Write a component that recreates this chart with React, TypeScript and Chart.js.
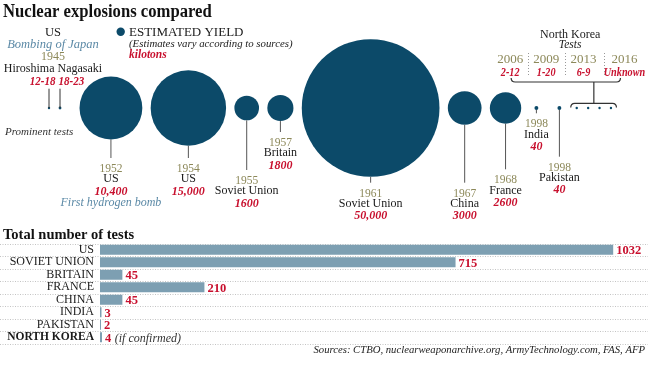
import React, { useEffect, useRef } from "react";
import { Chart, registerables } from "chart.js";
Chart.register(...registerables);

const SERIF = '"Liberation Serif", "Times New Roman", serif';
const C_BUBBLE = "#0c4a69";
const C_BAR = "#7d9fb2";
const C_RED = "#c8102e";
const C_OLIVE = "#8c8859";
const C_BLUE = "#5b89a6";
const C_TEXT = "#1a1a1a";
const C_STEM = "#333333";

// ---- Data: prominent tests ----
const testYears = ["1945", "1945", "1952", "1954", "1955", "1957", "1961", "1967", "1968", "1998", "1998", "2006", "2009", "2013", "2016"];
const testCountries = ["US", "US", "US", "US", "Soviet Union", "Britain", "Soviet Union", "China", "France", "India", "Pakistan", "North Korea", "North Korea", "North Korea", "North Korea"];
const yieldKt = [15, 21, 10400, 15000, 1600, 1800, 50000, 3000, 2600, 40, 40, 7, 10, 7.5, 0];
const yieldLabels = ["12-18", "18-23", "10,400", "15,000", "1600", "1800", "50,000", "3000", "2600", "40", "40", "2-12", "1-20", "6-9", "Unknown"];

// ---- Data: total number of tests ----
const countries = ["US", "SOVIET UNION", "BRITAIN", "FRANCE", "CHINA", "INDIA", "PAKISTAN", "NORTH KOREA"];
const totalTests = [1032, 715, 45, 210, 45, 3, 2, 4];

// ---- Layout (packing of bubbles) ----
const groups = [[0, 1], [2, 3, 4, 5, 6, 7, 8], [9, 10], [11, 12, 13, 14]];
const innerGap = [8.4, 8.3, 19.1, 9];
const groupGap = [18.1, 13.2, 14.2];
const firstX = 49;
const R_SCALE = 0.308;
const R_MIN = 1.2;
const labelDrop: Record<number, number> = { 2: 64, 3: 64, 4: 76, 5: 38, 6: 88.7, 7: 88.7, 8: 75.3, 9: 19.3, 10: 62.7 };
const nkCols = [-83.7, -47.7, -10.4, 30.6];
const nkSeps = [-65.5, -28.5, 9.8];

const radii = yieldKt.map((v) => Math.max(R_MIN, R_SCALE * Math.sqrt(v)));
const xs: number[] = [];
(() => {
  let prev = -1;
  groups.forEach((g, gi) =>
    g.forEach((idx, k) => {
      if (prev < 0) xs[idx] = firstX;
      else xs[idx] = xs[prev] + radii[prev] + radii[idx] + (k === 0 ? groupGap[gi - 1] : innerGap[gi]);
      prev = idx;
    })
  );
})();

function txt(ctx: CanvasRenderingContext2D, s: string, x: number, y: number, font: string, color: string, align: CanvasTextAlign = "center", sx = 1) {
  ctx.save();
  ctx.font = font;
  ctx.fillStyle = color;
  ctx.textAlign = align;
  ctx.textBaseline = "alphabetic";
  ctx.translate(x, y);
  ctx.scale(sx, 1);
  ctx.fillText(s, 0, 0);
  ctx.restore();
}

function vline(ctx: CanvasRenderingContext2D, x: number, y1: number, y2: number, color = C_STEM, w = 1) {
  ctx.save();
  ctx.strokeStyle = color;
  ctx.lineWidth = w;
  ctx.beginPath();
  ctx.moveTo(x, y1);
  ctx.lineTo(x, y2);
  ctx.stroke();
  ctx.restore();
}

const f = (size: number, style = "") => `${style} ${size}px ${SERIF}`.trim();

const topPlugin = {
  id: "topLabels",
  afterDatasetsDraw(chart: any) {
    const ctx: CanvasRenderingContext2D = chart.ctx;
    const xsc = chart.scales.x;
    const ysc = chart.scales.y;
    const px = (i: number) => xsc.getPixelForValue(xs[i]);
    const cy = ysc.getPixelForValue(0);

    txt(ctx, "Nuclear explosions compared", 3, 17, f(18, "bold"), "#111", "left", 0.925);

    // Japan
    const mid = (px(0) + px(1)) / 2;
    const jx = mid - 1.5;
    txt(ctx, "US", jx, 35.5, f(12.5), C_TEXT);
    txt(ctx, "Bombing of Japan", jx, 48, f(12.5, "italic"), C_BLUE);
    txt(ctx, testYears[0], jx, 60.3, f(12), C_OLIVE);
    txt(ctx, "Hiroshima Nagasaki", jx, 71.7, f(12), C_TEXT);
    txt(ctx, yieldLabels[0], mid + 1, 84.7, f(12, "italic bold"), C_RED, "right", 0.92);
    txt(ctx, yieldLabels[1], mid + 4, 84.7, f(12, "italic bold"), C_RED, "left", 0.92);
    vline(ctx, px(0), 88.7, cy);
    vline(ctx, px(1), 88.7, cy);

    // Legend
    ctx.save();
    ctx.fillStyle = C_BUBBLE;
    ctx.beginPath();
    ctx.arc(120.7, 31.7, 4.2, 0, Math.PI * 2);
    ctx.fill();
    ctx.restore();
    txt(ctx, "ESTIMATED YIELD", 129, 36, f(13), C_TEXT, "left");
    txt(ctx, "(Estimates vary according to sources)", 129, 47.3, f(10.8, "italic"), C_TEXT, "left");
    txt(ctx, "kilotons", 129, 57.7, f(11.5, "italic bold"), C_RED, "left");

    txt(ctx, "Prominent tests", 5, 135, f(11, "italic"), "#333", "left");

    // Main labels
    Object.keys(labelDrop).forEach((k) => {
      const i = Number(k);
      const x = px(i);
      const yb = cy + labelDrop[i];
      const s0 = cy + radii[i];
      const s1 = yb - 14;
      if (s1 > s0) vline(ctx, x, s0, s1, "#555");
      txt(ctx, testYears[i], x, yb, f(11.5), C_OLIVE);
      txt(ctx, testCountries[i], x, yb + 10.3, f(12), C_TEXT);
      txt(ctx, yieldLabels[i], x, yb + 22.5, f(12, "italic bold"), C_RED);
      if (i === 2) txt(ctx, "First hydrogen bomb", x, yb + 34, f(12, "italic"), C_BLUE);
    });

    // North Korea
    const nx = (px(11) + px(14)) / 2;
    txt(ctx, "North Korea", nx - 23.7, 38.3, f(12), C_TEXT);
    txt(ctx, "Tests", nx - 23.7, 47.7, f(11.5, "italic"), C_TEXT);
    [11, 12, 13, 14].forEach((i, k) => {
      txt(ctx, testYears[i], nx + nkCols[k], 62.7, f(13), C_OLIVE);
      txt(ctx, yieldLabels[i], nx + nkCols[k], 76, f(12, "italic bold"), C_RED, "center", 0.85);
    });
    ctx.save();
    ctx.strokeStyle = "#999";
    ctx.lineWidth = 1;
    ctx.setLineDash([1, 2]);
    nkSeps.forEach((o) => {
      ctx.beginPath();
      ctx.moveTo(Math.round(nx + o) + 0.5, 53);
      ctx.lineTo(Math.round(nx + o) + 0.5, 77);
      ctx.stroke();
    });
    ctx.restore();
    ctx.save();
    ctx.strokeStyle = C_STEM;
    ctx.lineWidth = 1.2;
    const L = nx + nkCols[0] + 1;
    const R = nx + nkCols[3] - 4;
    ctx.beginPath();
    ctx.moveTo(L, 78);
    ctx.quadraticCurveTo(L, 82, L + 4, 82);
    ctx.lineTo(R - 4, 82);
    ctx.quadraticCurveTo(R, 82, R, 78);
    ctx.stroke();
    ctx.beginPath();
    ctx.moveTo(nx, 82);
    ctx.lineTo(nx, 103.3);
    ctx.stroke();
    const L2 = px(11) - 6;
    const R2 = px(14) + 5.5;
    ctx.beginPath();
    ctx.moveTo(L2, 107.5);
    ctx.quadraticCurveTo(L2, 103.3, L2 + 4, 103.3);
    ctx.lineTo(R2 - 4, 103.3);
    ctx.quadraticCurveTo(R2, 103.3, R2, 107.5);
    ctx.stroke();
    ctx.restore();
  },
};

const barPlugin = {
  id: "barLabels",
  beforeDatasetsDraw(chart: any) {
    const ctx: CanvasRenderingContext2D = chart.ctx;
    const { top, bottom } = chart.chartArea;
    const n = countries.length;
    const step = (bottom - top) / n;
    ctx.save();
    ctx.strokeStyle = "#c4c4c4";
    ctx.lineWidth = 1;
    ctx.setLineDash([1, 1.5]);
    for (let i = 0; i <= n; i++) {
      const y = Math.round(top + i * step) + 0.5;
      ctx.beginPath();
      ctx.moveTo(0, y);
      ctx.lineTo(chart.width - 1, y);
      ctx.stroke();
    }
    ctx.restore();
  },
  afterDatasetsDraw(chart: any) {
    const ctx: CanvasRenderingContext2D = chart.ctx;
    txt(ctx, "Total number of tests", 3, 14, f(14.5, "bold"), "#111", "left");
    const meta = chart.getDatasetMeta(0);
    meta.data.forEach((bar: any, i: number) => {
      const x = bar.x + 3;
      const y = bar.y + 4.3;
      const s = String(totalTests[i]);
      txt(ctx, s, x, y, f(12.5, "bold"), C_RED, "left");
      if (countries[i] === "NORTH KOREA") {
        ctx.save();
        ctx.font = f(12.5, "bold");
        const w = ctx.measureText(s).width;
        ctx.restore();
        txt(ctx, "(if confirmed)", x + w + 3.5, y, f(12, "italic"), "#333", "left");
      }
    });
    txt(ctx, "Sources: CTBO, nuclearweaponarchive.org, ArmyTechnology.com, FAS, AFP", 645, 127.7, f(10.7, "italic"), "#222", "right");
  },
};

export default function App() {
  const topRef = useRef<HTMLCanvasElement>(null);
  const botRef = useRef<HTMLCanvasElement>(null);

  useEffect(() => {
    Chart.defaults.font.family = SERIF;
    const topChart = new Chart(topRef.current as HTMLCanvasElement, {
      type: "bubble",
      data: {
        datasets: [
          {
            data: xs.map((x, i) => ({ x, y: 0, r: radii[i] })),
            backgroundColor: C_BUBBLE,
            borderWidth: 0,
          },
        ],
      },
      options: {
        responsive: false,
        animation: false,
        events: [],
        layout: { padding: 0, autoPadding: false },
        plugins: { legend: { display: false }, tooltip: { enabled: false } },
        scales: {
          x: { type: "linear", display: false, min: 0, max: 649 },
          y: { type: "linear", display: false, min: -117, max: 108 },
        },
      } as any,
      plugins: [topPlugin],
    });

    const botChart = new Chart(botRef.current as HTMLCanvasElement, {
      type: "bar",
      data: {
        labels: countries,
        datasets: [
          {
            data: totalTests,
            backgroundColor: C_BAR,
            borderWidth: 0,
            barPercentage: 0.8,
            categoryPercentage: 1,
          },
        ],
      },
      options: {
        responsive: false,
        animation: false,
        events: [],
        indexAxis: "y",
        layout: { padding: { top: 18.5, bottom: 22.5, left: 0, right: 2 } },
        plugins: { legend: { display: false }, tooltip: { enabled: false } },
        scales: {
          x: { display: false, min: 0, max: 1100 },
          y: {
            grid: { display: false, drawTicks: false },
            border: { display: false },
            ticks: {
              autoSkip: false,
              padding: 6,
              color: C_TEXT,
              font: (c: any) => ({ family: SERIF, size: c.index === 7 ? 11.5 : 12, weight: c.index === 7 ? "bold" : "normal" }),
            },
            afterFit: (s: any) => {
              s.width = 100;
            },
          },
        },
      } as any,
      plugins: [barPlugin],
    });

    return () => {
      topChart.destroy();
      botChart.destroy();
    };
  }, []);

  return (
    <div style={{ position: "absolute", left: 0, top: 0, width: 649, height: 366, background: "#fff", overflow: "hidden" }}>
      <canvas ref={topRef} width={649} height={225} style={{ position: "absolute", left: 0, top: 0 }} />
      <canvas ref={botRef} width={649} height={141} style={{ position: "absolute", left: 0, top: 225 }} />
    </div>
  );
}
